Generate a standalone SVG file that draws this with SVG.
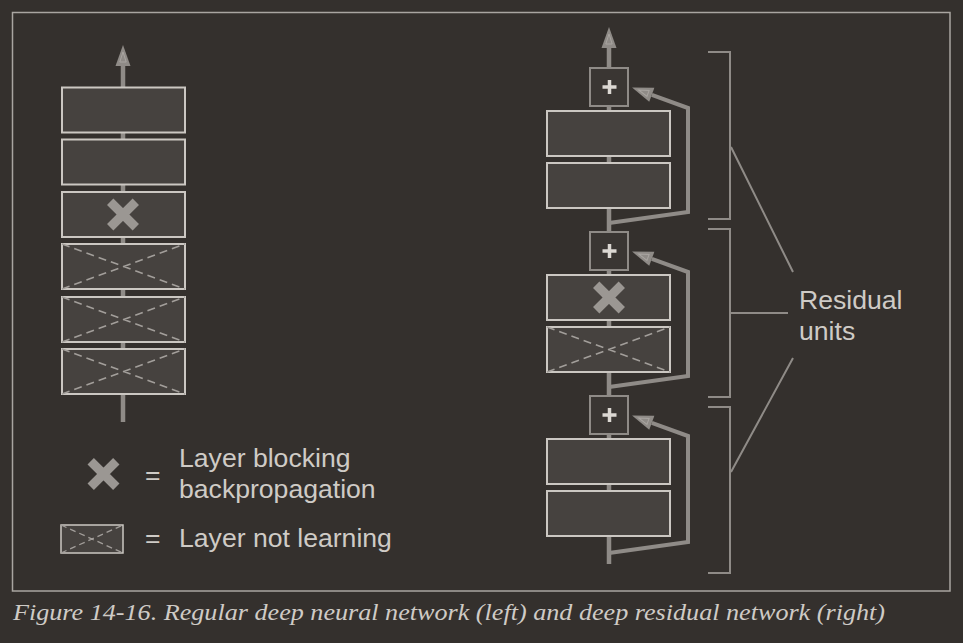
<svg xmlns="http://www.w3.org/2000/svg" width="963" height="643" viewBox="0 0 963 643">
<style>
.bg{fill:#34302d}
.frame{fill:none;stroke:#a9a5a1;stroke-width:1.5}
.layer{fill:#46423f;stroke:#cbc7c2;stroke-width:2}
.plusbox{fill:#3a3633;stroke:#8f8b87;stroke-width:2}
.plus{stroke:#dcd8d3;stroke-width:3.5;fill:none}
.stem{stroke:#8f8b87;stroke-width:4.5;fill:none}
.skip{stroke:#8f8b87;stroke-width:4;fill:none;stroke-linejoin:miter}
.dx{stroke:#a29e9a;stroke-width:1.6;stroke-dasharray:8 5;fill:none}
.bx{stroke:#9b9793;stroke-width:9;fill:none}
.brk{stroke:#8f8b87;stroke-width:2;fill:none}
.t{font-family:"Liberation Sans",Arial,sans-serif;font-size:26.6px;fill:#cfcbc6}
.cap{font-family:"Liberation Serif","Times New Roman",serif;font-style:italic;font-size:24px;fill:#cfcbc6}
</style>
<defs>
<marker id="ah" markerUnits="userSpaceOnUse" markerWidth="24" markerHeight="20" refX="0" refY="0" viewBox="0 -10 24 20" orient="auto" overflow="visible">
<path d="M0,-7.5 L21,0 L0,7.5 z" fill="#8f8b87"/>
<path d="M4,-3.2 L14,0 L4,3.2 z" fill="none" stroke="#a9a5a1" stroke-width="1"/>
</marker>
<g id="dashx"><path class="dx" d="M0,0 L123,45 M0,45 L123,0"/></g>
<g id="bigx"><path class="bx" d="M-12.8,-12.8 L12.8,12.8 M-12.8,12.8 L12.8,-12.8"/></g>
</defs>
<rect class="bg" x="0" y="0" width="963" height="643"/>
<rect class="frame" x="12.5" y="12.5" width="937.5" height="578.5"/>

<g id="connectors">
<path class="stem" d="M123,422 V66" marker-end="url(#ah)"/>
<path class="stem" d="M609,564 V48" marker-end="url(#ah)"/>
<path class="skip" d="M609,223 L688,212 V108 L651.8,94.8" marker-end="url(#ah)"/>
<path class="skip" d="M609,387 L688,376 V272 L651.8,258.8" marker-end="url(#ah)"/>
<path class="skip" d="M609,553 L688,542 V436 L651.8,422.8" marker-end="url(#ah)"/>
</g>

<g id="left-network">
<g id="l1"><rect class="layer" x="62" y="87.5" width="123" height="45"/></g>
<g id="l2"><rect class="layer" x="62" y="139.5" width="123" height="45"/></g>
<g id="l3"><rect class="layer" x="62" y="192" width="123" height="45"/><use href="#bigx" x="123" y="214.5"/></g>
<g id="l4"><rect class="layer" x="62" y="244" width="123" height="45"/><use href="#dashx" x="62" y="244"/></g>
<g id="l5"><rect class="layer" x="62" y="297" width="123" height="45"/><use href="#dashx" x="62" y="297"/></g>
<g id="l6"><rect class="layer" x="62" y="349" width="123" height="45"/><use href="#dashx" x="62" y="349"/></g>
</g>

<g id="right-network">
<g id="p1"><rect class="plusbox" x="590" y="68" width="38" height="38"/><path class="plus" d="M602.5,87 H616.5 M609.5,80 V94"/></g>
<g id="r1"><rect class="layer" x="547" y="111" width="123" height="45"/></g>
<g id="r2"><rect class="layer" x="547" y="163" width="123" height="45"/></g>
<g id="p2"><rect class="plusbox" x="590" y="232" width="38" height="38"/><path class="plus" d="M602.5,251 H616.5 M609.5,244 V258"/></g>
<g id="r3"><rect class="layer" x="547" y="275" width="123" height="45"/><use href="#bigx" x="609" y="297.5"/></g>
<g id="r4"><rect class="layer" x="547" y="327" width="123" height="45"/><use href="#dashx" x="547" y="327"/></g>
<g id="p3"><rect class="plusbox" x="590" y="396" width="38" height="38"/><path class="plus" d="M602.5,415 H616.5 M609.5,408 V422"/></g>
<g id="r5"><rect class="layer" x="547" y="439" width="123" height="45"/></g>
<g id="r6"><rect class="layer" x="547" y="491" width="123" height="45"/></g>
</g>

<g id="residual-units">
<path class="brk" d="M708,52 H730 V219 H708"/>
<path class="brk" d="M708,229 H730 V397 H708"/>
<path class="brk" d="M708,407 H730 V573 H708"/>
<path class="brk" d="M731,147 L793,272 M730,313 H788 M731,472 L793,358"/>
<text class="t" x="799" y="309">Residual</text>
<text class="t" x="799" y="340">units</text>
</g>

<g id="legend">
<use href="#bigx" x="103.5" y="474"/>
<text class="t" x="145" y="484">=</text>
<text class="t" x="179" y="467">Layer blocking</text>
<text class="t" x="179" y="498">backpropagation</text>
<rect class="layer" x="61" y="525" width="62" height="28" style="stroke-width:1.5"/>
<path class="dx" d="M61,525 L123,553 M61,553 L123,525" style="stroke-dasharray:6 4;stroke-width:1.3"/>
<text class="t" x="145" y="547">=</text>
<text class="t" x="179" y="547">Layer not learning</text>
</g>

<text class="cap" x="13" y="620" textLength="872" lengthAdjust="spacingAndGlyphs">Figure 14-16. Regular deep neural network (left) and deep residual network (right)</text>
</svg>
